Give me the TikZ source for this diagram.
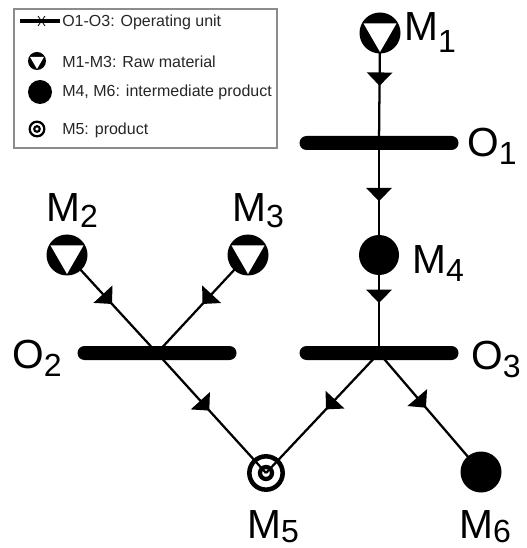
\documentclass[tikz,border=0pt]{standalone}
\usepackage{fontspec}
\setmainfont{Liberation Sans}
\usetikzlibrary{arrows.meta,decorations.markings,calc,backgrounds}
\newcommand\mylabel[3][6pt]{{\fontsize{30.5pt}{31pt}\selectfont #2\raisebox{-#1}{\fontsize{24pt}{25pt}\selectfont #3}}}
\tikzset{
  conn/.style={line width=1.7pt},
  flow/.style={conn, postaction={decorate}, decoration={markings,
      mark=at position #1 with {\arrow{Triangle[width=19pt,length=10pt]}}}},
  flow/.default=0.5,
  rawmat/.style={circle, fill=black, inner sep=0pt, minimum size=#1*0.75pt},
  rawbig/.style={rawmat=41, path picture={\fill[white]
      ($(path picture bounding box.center)+(150:19)$) --
      ($(path picture bounding box.center)+(30:19)$) --
      ($(path picture bounding box.center)+(270:19)$) -- cycle;}},
  rawsmall/.style={rawmat=18, path picture={\fill[white]
      ($(path picture bounding box.center)+(150:8)$) --
      ($(path picture bounding box.center)+(30:8)$) --
      ($(path picture bounding box.center)+(270:8)$) -- cycle;}},
  inter/.style={circle, fill=black, inner sep=0pt, minimum size=#1*0.75pt},
  prodbig/.style={circle, draw=black, line width=3.4pt, inner sep=0pt, minimum size=25pt,
      path picture={\draw[line width=3.2pt] (path picture bounding box.center) circle[radius=6];}},
  prodsmall/.style={circle, draw=black, line width=1.7pt, inner sep=0pt, minimum size=11pt,
      path picture={\draw[line width=1.6pt] (path picture bounding box.center) circle[radius=2.8];}},
  bar/.style={rectangle, fill=black, inner sep=0pt, minimum width=119.25pt,
      minimum height=10.5pt, rounded corners=5.25pt},
  lab/.style={anchor=base west, inner sep=0pt},
  legtext/.style={anchor=base west, inner sep=0pt, text=black!85, font=\fontsize{12pt}{14pt}\selectfont},
}
\begin{document}
\begin{tikzpicture}[x=0.75pt,y=0.75pt]
\useasboundingbox (0,0) rectangle (526,-548);
% legend
\draw[black!45, line width=0.9pt] (14,-9) rectangle (277,-148);
\draw[line width=3pt] (20,-21) -- (60,-21);
\draw[line width=0.6pt] (38,-16) -- (45,-26) (45,-16) -- (38,-26);
\node[legtext] (t1) at (62,-27) {O1-O3: Operating unit};
\node[rawsmall] (l2) at (37,-61) {};
\node[legtext] (t2) at (62,-68) {M1-M3: Raw material};
\node[inter=24] (l3) at (40,-92) {};
\node[legtext] (t3) at (62,-97) {M4, M6: intermediate product};
\node[prodsmall] (l4) at (37,-129) {};
\node[legtext] (t4) at (62,-135) {M5: product};
% material nodes
\node[rawbig] (m1) at (380,-33) {};
\node[rawbig] (m2) at (67,-255) {};
\node[rawbig] (m3) at (248,-255) {};
\node[inter=40] (m4) at (379,-255) {};
\node[prodbig] (m5) at (266,-473) {};
\node[inter=41] (m6) at (481,-472) {};
% operating units
\node[bar] (o1) at (379,-143) {};
\node[bar] (o2) at (157,-353) {};
\node[bar] (o3) at (379,-353) {};
% labels
\node[lab] (lm1) at (404,-41) {\mylabel[9pt]{M}{1}};
\node[lab] (lo1) at (467,-157) {\mylabel{O}{1}};
\node[lab] (lm2) at (46,-222) {\mylabel[4pt]{M}{2}};
\node[lab] (lm3) at (232,-222) {\mylabel[4pt]{M}{3}};
\node[lab] (lm4) at (412,-273) {\mylabel{M}{4}};
\node[lab] (lo2) at (12,-368) {\mylabel{O}{2}};
\node[lab] (lo3) at (471,-369) {\mylabel{O}{3}};
\node[lab] (lm5) at (247,-538) {\mylabel[3.5pt]{M}{5}};
\node[lab] (lm6) at (459,-538) {\mylabel[3.5pt]{M}{6}};
% connectors
\begin{scope}[on background layer]
\draw[flow=0.48] (m1.center) -- (o1.center);
\draw[flow=0.52] (o1.center) -- (m4.center);
\draw[flow=0.49] (m4.center) -- (o3.center);
\draw[flow=0.5] (m2.center) -- (o2.center);
\draw[flow=0.5] (m3.center) -- (o2.center);
\draw[flow=0.48] (o2.center) -- (m5.center);
\draw[flow=0.47] (o3.center) -- (m5.center);
\draw[flow=0.46] (o3.center) -- (m6.center);
\end{scope}
\end{tikzpicture}
\end{document}
